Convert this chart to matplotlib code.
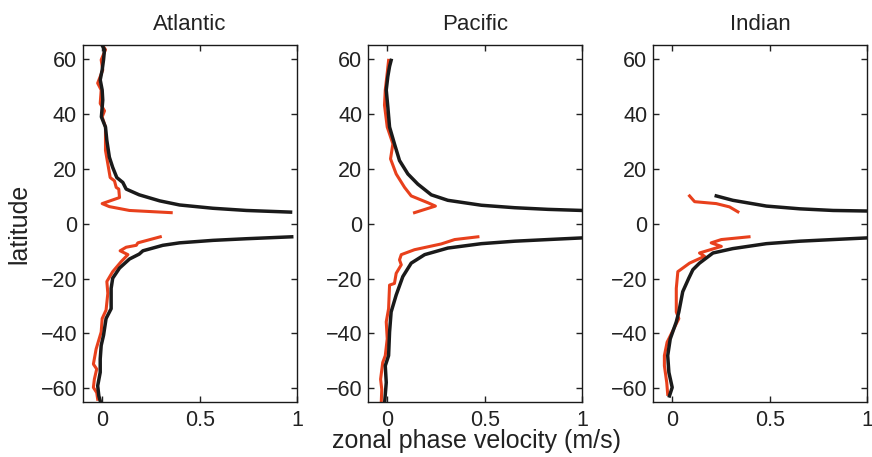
import numpy as np
import matplotlib
matplotlib.use('Agg')
import matplotlib.pyplot as plt

plt.rcParams['font.family'] = ['Liberation Sans', 'DejaVu Sans']

# Rótulos dos painéis
bacias = ['Atlantic', 'Pacific', 'Indian']

# Atlântico - teoria (preto) e observação (vermelho), hemisférios norte e sul
atl_teo_n_lat = [65, 63.4, 59.7, 56, 52.4, 48.7, 45, 38.9, 35.2, 30.3, 24.2, 20.5, 16.8, 15, 12.6, 10.5, 8.3, 6.8, 5.6, 4.8, 4.2]
atl_teo_n_c = [0.0, 0.012, 0.007, 0.0, -0.01, 0.0, 0.003, -0.004, 0.017, 0.024, 0.037, 0.054, 0.075, 0.106, 0.123, 0.19, 0.295, 0.397, 0.568, 0.74, 0.966]
atl_teo_s_lat = [-4.8, -5.5, -6.1, -7.0, -7.9, -9.9, -11.1, -12.9, -16.2, -19.9, -23.6, -31, -34.6, -40.7, -44.4, -49.3, -54.2, -59.1, -62.8, -65.9]
atl_teo_s_c = [0.972, 0.74, 0.568, 0.397, 0.311, 0.209, 0.19, 0.14, 0.089, 0.054, 0.046, 0.046, 0.02, 0.007, -0.005, -0.01, -0.01, -0.023, -0.017, -0.005]
atl_obs_n_lat = [64.9, 63.4, 59.7, 56, 51.2, 48.7, 43.8, 41.1, 38.9, 35.2, 26.7, 21.8, 16.8, 15.6, 13.2, 12.6, 9.5, 7.3, 6.2, 4.8, 4.0]
atl_obs_n_c = [0.003, 0.017, -0.005, 0.003, -0.023, -0.005, -0.01, 0.012, 0.0, 0.017, 0.017, 0.029, 0.041, 0.063, 0.072, 0.085, 0.089, 0.0, 0.037, 0.14, 0.354]
atl_obs_s_lat = [-4.8, -7.0, -7.9, -8.6, -9.9, -11.3, -13.8, -17.5, -21.1, -25.4, -31.5, -34.6, -39.5, -45.7, -51.2, -53, -56.7, -59.7, -61.6, -64]
atl_obs_s_c = [0.298, 0.183, 0.175, 0.123, 0.092, 0.132, 0.098, 0.054, 0.024, 0.029, 0.02, 0.0, -0.005, -0.031, -0.045, -0.028, -0.04, -0.045, -0.028, -0.023]

# Pacífico
pac_teo_n_lat = [59.5, 57.3, 53.6, 48.7, 42.6, 35.2, 29.1, 23, 18.1, 14.4, 10.5, 8.5, 6.7, 5.8, 5.2, 4.8]
pac_teo_n_c = [0.02, 0.012, 0.003, -0.005, 0.003, 0.012, 0.037, 0.063, 0.106, 0.157, 0.226, 0.311, 0.483, 0.654, 0.825, 1.0]
pac_teo_s_lat = [-5.2, -5.8, -6.4, -7.3, -8.9, -11.3, -14.4, -19.3, -26, -32.2, -39.5, -48.1, -51.8, -57.9, -65.9]
pac_teo_s_c = [1.0, 0.825, 0.654, 0.483, 0.311, 0.192, 0.123, 0.08, 0.046, 0.02, 0.012, 0.007, -0.01, -0.005, -0.014]
pac_obs_n_lat = [59.5, 54.9, 48.7, 43.2, 35.2, 29.1, 23.6, 18.1, 13.2, 10.1, 7.6, 6.4, 4.0]
pac_obs_n_c = [0.007, 0.0, -0.01, -0.014, 0.0, 0.029, 0.017, 0.046, 0.089, 0.123, 0.209, 0.247, 0.14]
pac_obs_s_lat = [-4.8, -5.8, -7.4, -9.5, -11.3, -13.2, -15, -18.1, -21.8, -22.4, -31, -35.8, -42, -48.1, -50.6, -56.7, -60.4, -65.9]
pac_obs_s_c = [0.465, 0.346, 0.277, 0.14, 0.072, 0.063, 0.072, 0.046, 0.037, 0.012, 0.007, -0.005, 0.0, -0.01, -0.023, -0.034, -0.028, -0.031]

# Índico
ind_teo_n_lat = [10.1, 8.5, 6.4, 5.4, 4.8, 4.6]
ind_teo_n_c = [0.226, 0.311, 0.483, 0.654, 0.825, 1.0]
ind_teo_s_lat = [-5.2, -5.8, -6.4, -7.3, -9.1, -10.7, -14.4, -16.8, -19.9, -24.8, -32.2, -35.8, -42, -48.1, -54.2, -59.7, -62.8]
ind_teo_s_c = [1.0, 0.825, 0.654, 0.483, 0.311, 0.209, 0.14, 0.106, 0.085, 0.054, 0.034, 0.021, -0.01, -0.023, -0.017, 0.0, -0.014]
ind_obs_n_lat = [10.1, 8.0, 7.3, 6.1, 4.3]
ind_obs_n_c = [0.089, 0.115, 0.226, 0.294, 0.337]
ind_obs_s_lat = [-4.8, -5.8, -7.0, -8.3, -10.7, -11.9, -14.4, -17.5, -23.6, -32.2, -34.6, -39.5, -43.2, -48.1, -51.8, -57.9, -62.2]
ind_obs_s_c = [0.394, 0.252, 0.2, 0.252, 0.14, 0.166, 0.089, 0.029, 0.021, 0.021, 0.034, 0.0, -0.026, -0.04, -0.04, -0.028, -0.023]

dados = [
    [(atl_teo_n_c, atl_teo_n_lat), (atl_teo_s_c, atl_teo_s_lat),
     (atl_obs_n_c, atl_obs_n_lat), (atl_obs_s_c, atl_obs_s_lat)],
    [(pac_teo_n_c, pac_teo_n_lat), (pac_teo_s_c, pac_teo_s_lat),
     (pac_obs_n_c, pac_obs_n_lat), (pac_obs_s_c, pac_obs_s_lat)],
    [(ind_teo_n_c, ind_teo_n_lat), (ind_teo_s_c, ind_teo_s_lat),
     (ind_obs_n_c, ind_obs_n_lat), (ind_obs_s_c, ind_obs_s_lat)],
]

preto = '#1a1a1a'
vermelho = '#e8401c'
texto = '#222222'

fig = plt.figure(figsize=(8.72, 4.57), dpi=100)
esquerdas = [0.0948, 0.4217, 0.7485]

for i, nome in enumerate(bacias):
    ax = fig.add_axes([esquerdas[i], 0.1204, 0.246, 0.7805])
    teo_n, teo_s, obs_n, obs_s = dados[i]
    # vermelho primeiro, preto por cima
    ax.plot(*obs_n, color=vermelho, lw=2.2, zorder=2)
    ax.plot(*obs_s, color=vermelho, lw=2.2, zorder=2)
    ax.plot(*teo_n, color=preto, lw=2.5, zorder=3)
    ax.plot(*teo_s, color=preto, lw=2.5, zorder=3)
    ax.set_xlim(-0.1, 1.0)
    ax.set_ylim(-65, 65)
    ax.set_xticks([0, 0.5, 1])
    ax.set_xticklabels(['0', '0.5', '1'])
    ax.set_yticks(np.arange(-60, 61, 20))
    ax.set_yticklabels(['\u221260', '\u221240', '\u221220', '0', '20', '40', '60'])
    ax.tick_params(direction='in', top=True, right=True, length=4, width=1,
                   labelsize=15.5, colors=texto)
    ax.tick_params(axis='x', pad=6)
    ax.tick_params(axis='y', pad=4)
    for s in ax.spines.values():
        s.set_linewidth(1.0)
        s.set_color(preto)
    ax.set_title(nome, fontsize=16, color=texto, pad=11)

fig.text(0.546, 0.008, 'zonal phase velocity (m/s)', ha='center', va='bottom',
         fontsize=18, color=texto)
fig.text(0.022, 0.51, 'latitude', ha='center', va='center', rotation=90,
         fontsize=18, color=texto)

plt.savefig('out.png', dpi=100)
